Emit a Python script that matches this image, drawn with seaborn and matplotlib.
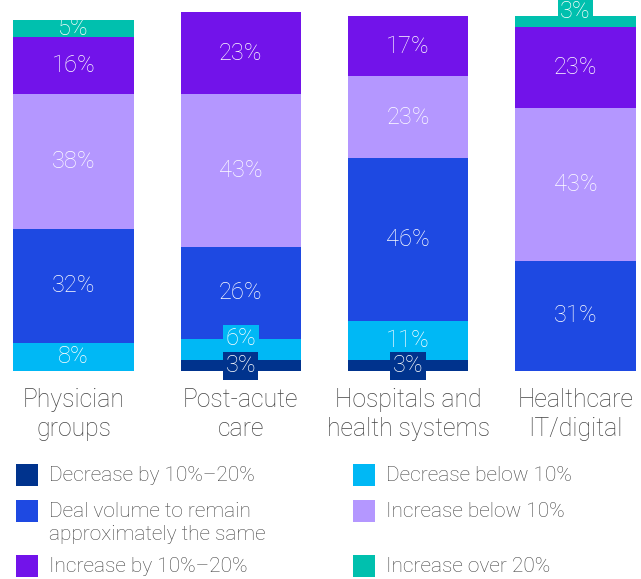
import numpy as np
import pandas as pd
import seaborn as sns
import matplotlib.pyplot as plt
from matplotlib.patches import Rectangle

# data
categories = ["Physician\ngroups", "Post-acute\ncare", "Hospitals and\nhealth systems", "Healthcare\nIT/digital"]
series = ["Decrease by 10%–20%", "Decrease below 10%",
          "Deal volume to remain\napproximately the same", "Increase below 10%",
          "Increase by 10%–20%", "Increase over 20%"]
dec_10_20 = [0, 3, 3, 0]
dec_below_10 = [8, 6, 11, 0]
same = [32, 26, 46, 31]
inc_below_10 = [38, 43, 23, 43]
inc_10_20 = [16, 23, 17, 23]
inc_over_20 = [5, 0, 0, 3]
colors = ["#00338D", "#00B8F5", "#1E49E2", "#B497FF", "#7213EA", "#00C0AE"]

sns.set_style("white")
plt.rcParams['font.family'] = ['Roboto', 'DejaVu Sans']

values = np.array([dec_10_20, dec_below_10, same, inc_below_10, inc_10_20, inc_over_20])
cum = values.cumsum(axis=0)

W, H = 641, 579
fig = plt.figure(figsize=(W / 100, H / 100), dpi=100)
ax = fig.add_axes([0, 1 - 371 / H, 1, 364 / H])

# stacked bars: draw cumulative totals from the top layer down
for k in range(len(series) - 1, -1, -1):
    df = pd.DataFrame({"cat": categories, "val": cum[k]})
    sns.barplot(data=df, x="cat", y="val", color=colors[k], saturation=1,
                width=0.72, linewidth=0, ax=ax)

# segment labels
for i in range(len(categories)):
    prev_small = False
    for k in range(len(series)):
        v = values[k, i]
        if v == 0:
            continue
        bottom = cum[k, i] - v
        y = bottom + v / 2
        small = v < 5 or (v <= 6 and prev_small)
        is_top = cum[k, i] == cum[:, i].max()
        kw = {}
        dy = 0
        if small:
            kw["bbox"] = dict(boxstyle="square,pad=0.1", fc=colors[k], ec="none")
            if is_top:
                dy = 7
            elif bottom > 0:
                dy = 8
        ax.annotate(f"{v}%", (i, y), xytext=(0, dy), textcoords="offset points",
                    ha="center", va="center", color="white", fontsize=17,
                    fontweight="light", **kw)
        prev_small = small

ax.set_xlim(-73.5 / 167.3, (W - 73.5) / 167.3)
ax.set_ylim(0, 364 / 3.55)
ax.set_yticks([])
ax.set_xlabel("")
ax.set_ylabel("")
ax.tick_params(axis="x", length=0, pad=12, labelsize=17.8, labelcolor="#444444")
for lab in ax.get_xticklabels():
    lab.set_linespacing(1.3)
    lab.set_fontweight("light")
sns.despine(ax=ax, left=True, bottom=True)

# legend, two columns
legend_cols = [[0, 2, 4], [1, 3, 5]]
col_x = [16, 353]
row_y = [475, 511, 566]
for c, idxs in enumerate(legend_cols):
    for r, k in enumerate(idxs):
        x0 = col_x[c]
        yc = row_y[r]
        fig.add_artist(Rectangle((x0 / W, 1 - (yc + 11) / H), 22 / W, 22 / H,
                                 transform=fig.transFigure, color=colors[k], lw=0))
        fig.text((x0 + 33) / W, 1 - (yc - 9) / H, series[k], ha="left", va="top",
                 fontsize=15, color="#444444", linespacing=1.25, fontweight="light")

fig.savefig("out.png", dpi=100)
